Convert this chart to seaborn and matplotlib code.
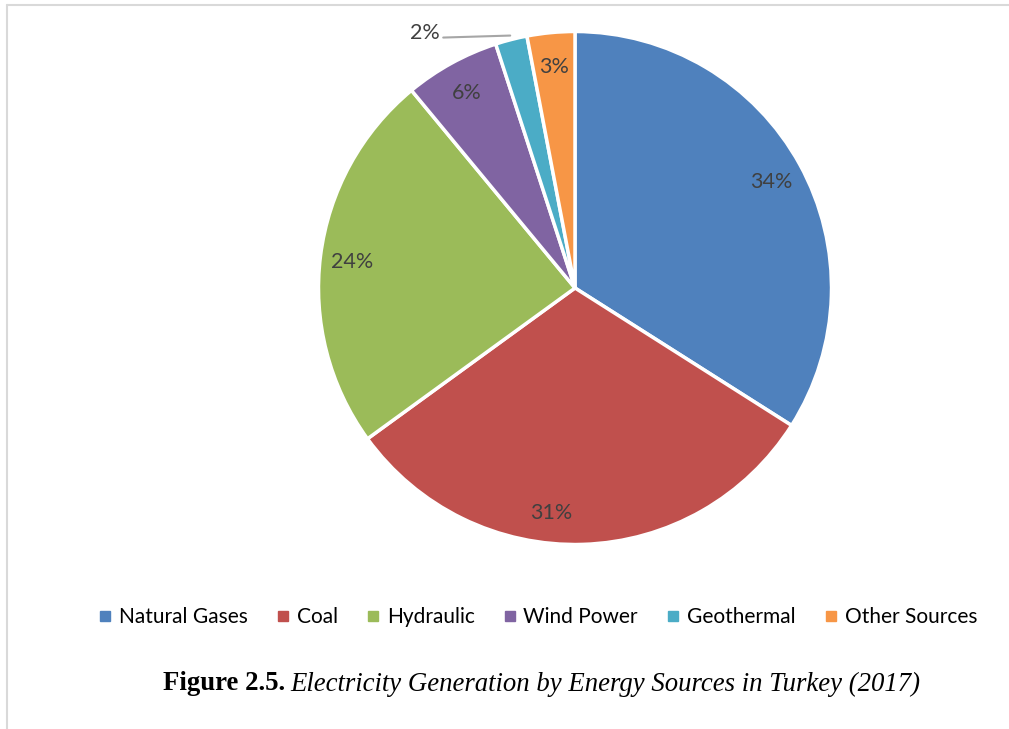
import numpy as np
import matplotlib.pyplot as plt
import seaborn as sns
from matplotlib.lines import Line2D

sns.set_theme(style="white")
plt.rcParams['font.family'] = ['Lato', 'DejaVu Sans']

# Data (shares in %)
sources = ['Natural Gases', 'Coal', 'Hydraulic', 'Wind Power', 'Geothermal', 'Other Sources']
shares = [34, 31, 24, 6, 2, 3]
colors = ['#4F81BD', '#C0504D', '#9BBB59', '#8064A2', '#4BACC6', '#F79646']

W, H = 1009, 729
fig = plt.figure(figsize=(W / 100, H / 100), dpi=100)
fig.patch.set_facecolor('white')
ax = fig.add_axes([0, 0, 1, 1])

# pie in pixel-like data units
cx, cy, r = 575, H - 288, 256.5
wedges, _ = ax.pie(shares, colors=colors, startangle=90, counterclock=False,
                   center=(cx, cy), radius=r,
                   wedgeprops=dict(edgecolor='white', linewidth=2.5))
ax.set_xlim(0, W)
ax.set_ylim(0, H)
ax.set_aspect('equal')
ax.axis('off')

# percentage labels
lab_dist = 0.875
lab_shift = {1: -8}
for i, (w, v) in enumerate(zip(wedges, shares)):
    theta = np.deg2rad((w.theta1 + w.theta2) / 2 + lab_shift.get(i, 0))
    if sources[i] == 'Geothermal':
        ex, ey = cx + r * np.cos(theta), cy + r * np.sin(theta)
        ax.plot([ex - 68, ex - 1], [ey + 2, ey + 4], color='#A6A6A6', lw=1.5)
        ax.text(ex - 71, ey + 7, f'{v}%', ha='right', va='center',
                fontsize=15.5, color='#404040')
        continue
    x = cx + lab_dist * r * np.cos(theta)
    y = cy + lab_dist * r * np.sin(theta) - 2
    ax.text(x, y, f'{v}%', ha='center', va='center', fontsize=15.5, color='#404040')

# legend
handles = [Line2D([], [], marker='s', linestyle='', markersize=7, color=c) for c in colors]
fig.legend(handles, sources, loc='center', bbox_to_anchor=(538 / W, 1 - 617 / H),
           ncol=6, frameon=False, fontsize=15, handlelength=0.6,
           handletextpad=0.35, columnspacing=1.4, labelcolor='#000000')

# caption
serif = ['Liberation Serif', 'DejaVu Serif']
t1 = fig.text(163 / W, 1 - 684 / H, 'Figure 2.5.', fontsize=19.3, fontweight='bold',
              family=serif, ha='left', va='center', color='black')
fig.canvas.draw()
bb = t1.get_window_extent()
fig.text(bb.x1 / W + 5 / W, 1 - 684 / H,
         'Electricity Generation by Energy Sources in Turkey (2017)',
         fontsize=19.3, style='italic', family=serif, ha='left', va='center', color='black')

# page frame lines
fig.add_artist(Line2D([7 / W, 1], [1 - 5 / H, 1 - 5 / H], transform=fig.transFigure,
                      color='#D9D9D9', lw=1.5))
fig.add_artist(Line2D([7 / W, 7 / W], [0, 1 - 5 / H], transform=fig.transFigure,
                      color='#D9D9D9', lw=1.5))

fig.savefig('out.png', dpi=100, facecolor='white')
